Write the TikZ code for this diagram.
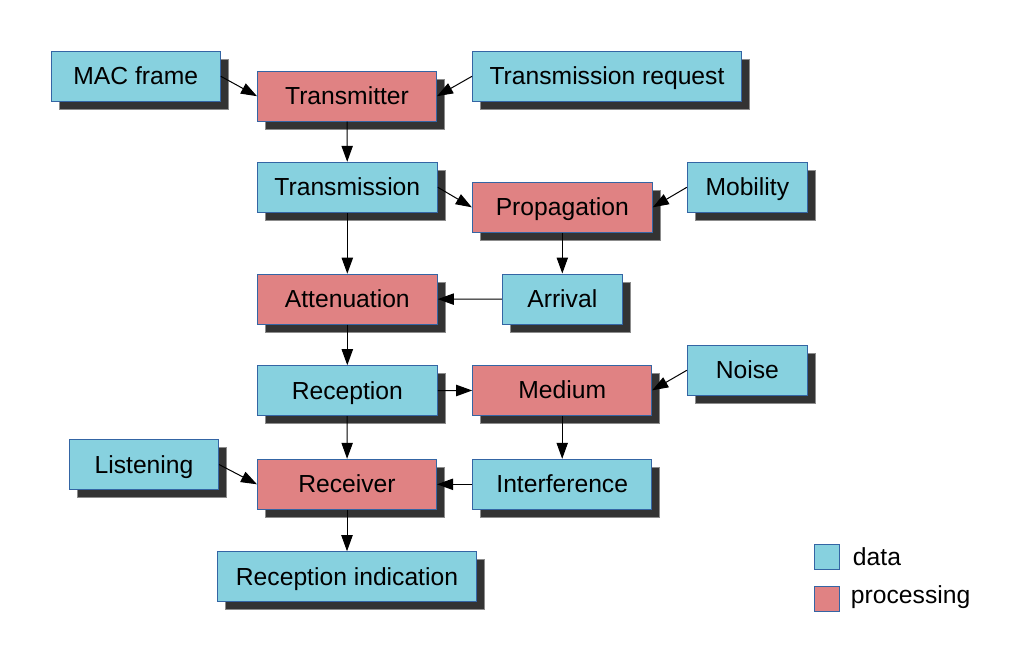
\documentclass[tikz,border=0pt]{standalone}
\usepackage{fontspec}
\setmainfont{Liberation Sans}
\usetikzlibrary{arrows.meta, shadows}
\usepackage{xcolor}
\definecolor{datafill}{RGB}{135, 209, 223}
\definecolor{procfill}{RGB}{224, 130, 131}
\definecolor{boxedge}{RGB}{52, 101, 164}
\definecolor{shadowdark}{RGB}{51, 51, 51}

\begin{document}
\begin{tikzpicture}[
    x=0.75pt, y=-0.75pt,
    box/.style={rectangle, draw=boxedge, line width=0.75pt, minimum height=37.5pt, inner sep=0pt, text height=13.2pt, text depth=0.4pt, font=\fontsize{18.5}{22}\selectfont, drop shadow={shadow xshift=6pt, shadow yshift=-6pt, fill=shadowdark, draw=black!45, line width=0.5pt, opacity=1}},
    databox/.style={box, fill=datafill},
    procbox/.style={box, fill=procfill},
    keybox/.style={rectangle, draw=boxedge, line width=0.75pt, minimum size=18.75pt, inner sep=0pt},
    keylabel/.style={font=\fontsize{18.5}{22}\selectfont, anchor=base west, inner sep=0pt},
    arrow/.style={-{Triangle[length=12pt, width=8.5pt]}, line width=0.75pt, color=black}
]

\path[use as bounding box, fill=white] (0, 0) rectangle (1019, 660);

% Transmitter row
\node[databox, minimum width=126.75pt] (macframe) at (135.8, 76.3) {MAC frame};
\node[procbox, minimum width=134.25pt] (transmitter) at (347, 96.2) {Transmitter};
\node[databox, minimum width=201.75pt] (txrequest) at (607, 76.3) {Transmission request};

% Propagation row
\node[databox, minimum width=135pt] (transmission) at (347.3, 187.3) {Transmission};
\node[procbox, minimum width=135pt] (propagation) at (562.3, 207.3) {Propagation};
\node[databox, minimum width=90pt] (mobility) at (747.3, 187.3) {Mobility};

% Attenuation row
\node[procbox, minimum width=135pt] (attenuation) at (347.3, 299.2) {Attenuation};
\node[databox, minimum width=90pt] (arrival) at (562.3, 299) {Arrival};

% Medium row
\node[databox, minimum width=135pt] (reception) at (347.3, 390.7) {Reception};
\node[procbox, minimum width=134.25pt] (medium) at (562.2, 390.3) {Medium};
\node[databox, minimum width=90pt] (noise) at (747.3, 370.3) {Noise};

% Receiver row
\node[databox, minimum width=111.75pt] (listening) at (144, 464.5) {Listening};
\node[procbox, minimum width=134.25pt] (receiver) at (347, 484.3) {Receiver};
\node[databox, minimum width=134.25pt] (interference) at (562.2, 484.3) {Interference};
\node[databox, minimum width=194.25pt] (recindication) at (347, 576.7) {Reception indication};

% Arrows
\draw[arrow] (macframe.east) -- (transmitter.west);
\draw[arrow] (txrequest.west) -- (transmitter.east);
\draw[arrow] (transmitter) -- (transmission);
\draw[arrow] (transmission.east) -- (propagation.west);
\draw[arrow] (mobility.west) -- (propagation.east);
\draw[arrow] (transmission) -- (attenuation);
\draw[arrow] (propagation) -- (arrival);
\draw[arrow] (arrival) -- (attenuation);
\draw[arrow] (attenuation) -- (reception);
\draw[arrow] (reception) -- (medium);
\draw[arrow] (noise.west) -- (medium.east);
\draw[arrow] (medium) -- (interference);
\draw[arrow] (reception) -- (receiver);
\draw[arrow] (listening.east) -- (receiver.west);
\draw[arrow] (interference) -- (receiver);
\draw[arrow] (receiver) -- (recindication);

% Legend
\node[keybox, fill=datafill] (keydata) at (826.8, 556.7) {};
\node[keybox, fill=procfill] (keyproc) at (826.8, 598.5) {};
\node[keylabel] (keydatatext) at (852.7, 565.7) {data};
\node[keylabel] (keyproctext) at (850.7, 603) {processing};

\end{tikzpicture}
\end{document}
